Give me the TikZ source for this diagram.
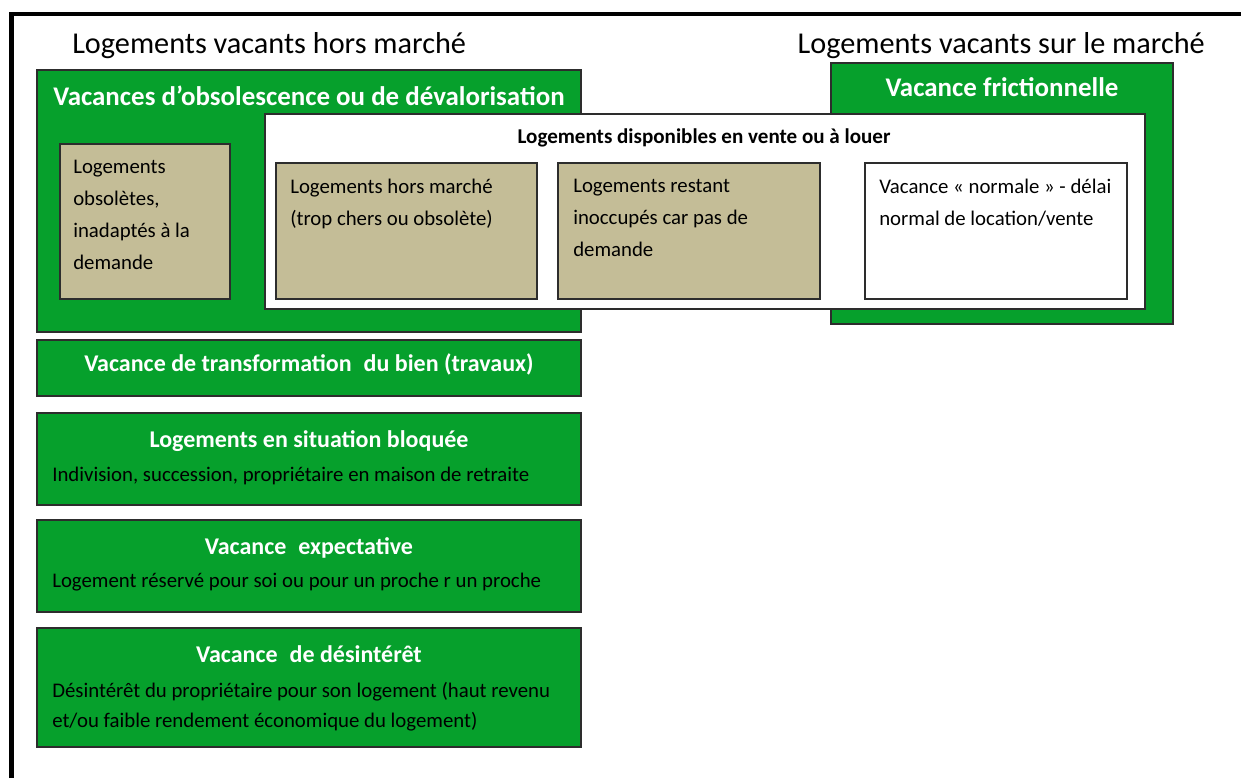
\documentclass[tikz,border=0pt]{standalone}
\usepackage{fontspec}
\setmainfont{Carlito}
\usetikzlibrary{fit,shadows}
\definecolor{vgreen}{RGB}{6,160,44}
\definecolor{vtan}{RGB}{196,189,151}
\definecolor{vedge}{RGB}{45,45,45}
\tikzset{
  box/.style={inner sep=0pt, line width=1pt, draw=vedge,
    drop shadow={shadow xshift=0.9pt, shadow yshift=-0.9pt, fill=black!30, opacity=0.7}},
  gbox/.style={box, fill=vgreen},
  tbox/.style={box, fill=vtan},
  wbox/.style={box, fill=white},
  hdr/.style={font=\fontsize{22.7}{27}\selectfont, text=black, inner sep=0pt},
  gtitle/.style={font=\bfseries\fontsize{18}{21}\selectfont, text=white, inner sep=0pt},
  bigtitle/.style={font=\bfseries\fontsize{20.2}{24}\selectfont, text=white, inner sep=0pt},
  sub/.style={font=\fontsize{15.6}{22.5}\selectfont, text=black, inner sep=0pt, align=left},
  body/.style={font=\fontsize{15.6}{24}\selectfont, text=black, inner sep=0pt, align=left, anchor=north west},
}
\begin{document}
\begin{tikzpicture}[x=0.75pt,y=-0.75pt]
\useasboundingbox (0,0) rectangle (1241,778);
% frame
\draw[line width=3.4pt, black] (11.5,778) -- (11.5,14) -- (1241,14);
% headers
\node[hdr, anchor=mid west] (h1) at (72,50) {Logements vacants hors marché};
\node[hdr, anchor=mid east] (h2) at (1205,50) {Logements vacants sur le marché};
% green boxes
\node[gbox, fit={(37,70) (581,332)}] (g1) {};
\node[gbox, fit={(831,63) (1173,324)}] (gf) {};
\node[bigtitle, anchor=mid] (g1t) at (309,102) {Vacances d’obsolescence ou de dévalorisation};
\node[bigtitle, anchor=mid] (gft) at (1002,93) {Vacance frictionnelle};
% tan box 1
\node[tbox, fit={(60,144) (230,299)}] (t1) {};
\node[body] (t1x) at (73,160) {Logements\\obsolètes,\\inadaptés à la\\demande};
% white box
\node[wbox, fit={(265,114) (1145,309)}] (w) {};
\node[font=\bfseries\fontsize{15.8}{19}\selectfont, inner sep=0pt, anchor=mid] (wt) at (704,140) {Logements disponibles en vente ou à louer};
\node[tbox, fit={(276,163) (537,299)}] (t2) {};
\node[body] (t2x) at (290,179) {Logements hors marché\\(trop chers ou obsolète)};
\node[tbox, fit={(558,163) (820,299)}] (t3) {};
\node[body] (t3x) at (573,179) {Logements restant\\inoccupés car pas de\\demande};
\node[wbox, fit={(865,163) (1127,299)}] (w4) {};
\node[body] (w4x) at (879,179) {Vacance « normale » - délai\\normal de location/vente};
% lower green boxes
\node[gbox, fit={(37,340) (581,396)}] (g2) {};
\node[gtitle, anchor=mid] (g2t) at (309,368) {Vacance de transformation\hspace{0.5em}du bien (travaux)};
\node[gbox, fit={(37,413) (581,505)}] (g3) {};
\node[gtitle, anchor=mid] (g3t) at (309,444) {Logements en situation bloquée};
\node[sub, anchor=mid west] (g3s) at (52,478) {Indivision, succession, propriétaire en maison de retraite};
\node[gbox, fit={(37,520) (581,612)}] (g4) {};
\node[gtitle, anchor=mid] (g4t) at (309,551) {Vacance\hspace{0.5em}expectative};
\node[sub, anchor=mid west] (g4s) at (52,584) {Logement réservé pour soi ou pour un proche r un proche};
\node[gbox, fit={(37,628) (581,747)}] (g5) {};
\node[gtitle, anchor=mid] (g5t) at (309,659) {Vacance\hspace{0.5em}de désintérêt};
\node[sub, anchor=north west] (g5s) at (52,682) {Désintérêt du propriétaire pour son logement (haut revenu\\et/ou faible rendement économique du logement)};
\end{tikzpicture}
\end{document}
